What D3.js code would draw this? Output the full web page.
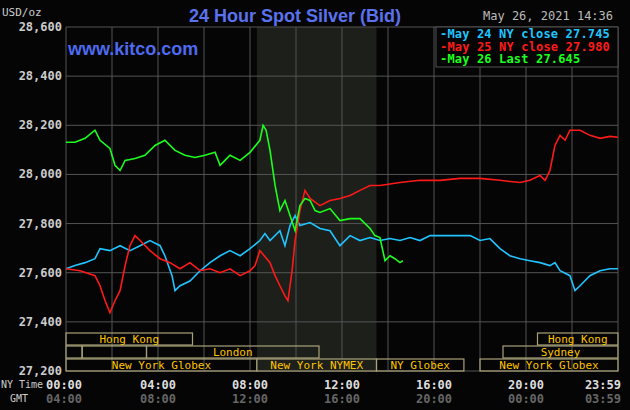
<!DOCTYPE html>
<html><head><meta charset="utf-8">
<script src="https://cdn.jsdelivr.net/npm/d3@7"></script>
<style>body{margin:0;background:#000}svg{display:block}text{font-family:"DejaVu Sans Mono",monospace}</style>
</head><body><svg width="630" height="410"></svg>
<script>
const yTicks=[27.2,27.4,27.6,27.8,28.0,28.2,28.4,28.6];
const nyLabels=["00:00","04:00","08:00","12:00","16:00","20:00","23:59"];
const gmtLabels=["04:00","08:00","12:00","16:00","20:00","00:00","03:59"];
const labelHours=[0,4,8,12,16,20,24];
const cyanT=[0,.39,.83,1.26,1.48,1.91,2.35,2.78,3.22,3.65,4.09,4.30,4.61,4.74,4.96,5.39,5.83,6.26,6.70,7.13,7.57,8.0,8.43,8.65,8.87,9.30,9.52,9.74,9.96,10.17,10.61,11.04,11.48,11.91,12.35,12.78,13.22,13.65,14.09,14.52,14.96,15.39,15.83,16.7,17.57,18.0,18.43,18.87,19.30,19.74,20.17,20.61,21.04,21.26,21.48,21.91,22.13,22.35,22.78,23.22,23.65,24];
const cyanV=[27.616,27.629,27.641,27.657,27.698,27.690,27.710,27.690,27.710,27.731,27.710,27.669,27.588,27.527,27.547,27.566,27.608,27.641,27.669,27.690,27.669,27.698,27.731,27.759,27.731,27.771,27.710,27.792,27.833,27.792,27.804,27.780,27.771,27.710,27.751,27.731,27.743,27.731,27.739,27.731,27.743,27.731,27.751,27.751,27.751,27.731,27.739,27.698,27.669,27.657,27.649,27.641,27.629,27.641,27.608,27.588,27.527,27.547,27.588,27.608,27.616,27.616];
const redT=[0,.61,1.26,1.48,1.70,1.91,2.13,2.35,2.57,2.78,3.0,3.22,3.65,4.09,4.52,4.96,5.39,5.83,6.26,6.70,7.13,7.57,8.0,8.22,8.43,8.87,9.09,9.30,9.52,9.65,9.83,9.96,10.17,10.39,10.61,11.04,11.48,11.91,12.35,12.78,13.22,13.65,14.52,15.39,16.26,17.13,18.0,18.87,19.74,20.17,20.61,20.83,21.04,21.26,21.48,21.70,21.91,22.35,22.78,23.22,23.65,24];
const redV=[27.616,27.608,27.588,27.547,27.486,27.437,27.486,27.527,27.629,27.710,27.751,27.731,27.690,27.657,27.641,27.616,27.641,27.608,27.616,27.600,27.616,27.588,27.608,27.629,27.690,27.641,27.588,27.547,27.506,27.486,27.608,27.731,27.853,27.935,27.902,27.873,27.894,27.902,27.914,27.935,27.955,27.955,27.967,27.976,27.976,27.984,27.984,27.976,27.967,27.976,27.996,27.976,28.016,28.118,28.159,28.139,28.180,28.180,28.159,28.147,28.155,28.151];
const greenT=[0,.39,.83,1.26,1.48,1.91,2.13,2.35,2.57,3.0,3.43,3.87,4.30,4.74,5.17,5.61,6.04,6.48,6.70,6.91,7.13,7.57,8.0,8.43,8.57,8.70,8.87,9.09,9.30,9.52,9.74,9.96,10.17,10.39,10.61,10.83,11.04,11.48,11.91,12.35,12.78,13.22,13.43,13.65,13.87,14.09,14.30,14.52,14.65];
const greenV=[28.131,28.131,28.147,28.180,28.139,28.106,28.037,28.016,28.057,28.065,28.078,28.118,28.139,28.098,28.078,28.069,28.078,28.090,28.037,28.057,28.078,28.057,28.090,28.139,28.200,28.180,28.098,27.955,27.853,27.894,27.833,27.771,27.873,27.902,27.894,27.853,27.845,27.861,27.812,27.820,27.820,27.780,27.751,27.743,27.649,27.669,27.657,27.641,27.649];
const sessions=[
 [0,0,5.5,"Hong Kong"],[0,20.5,24,"Hong Kong"],
 [1,0,0.7,""],[1,0.7,3.5,""],[1,3.5,11,"London"],[1,19,24,"Sydney"],
 [2,0,8.3,"New York Globex"],[2,8.3,13.5,"New York NYMEX"],[2,13.5,17.3,"NY Globex"],[2,18,24,"New York Globex"]];

const svg=d3.select("svg");
svg.append("rect").attr("width",630).attr("height",410).attr("fill","#050505");
const x=d3.scaleLinear().domain([0,24]).range([66,618]);
const y=d3.scaleLinear().domain([27.2,28.6]).range([371,27]);
svg.append("rect").attr("x",x(8.3)).attr("y",27).attr("width",x(13.5)-x(8.3)).attr("height",344).attr("fill","#1c1f1a");
const g=svg.append("g");
d3.range(0,25,2).forEach(h=>g.append("line").attr("x1",x(h)).attr("x2",x(h)).attr("y1",27).attr("y2",371).attr("stroke","#555"));
yTicks.forEach(v=>{g.append("line").attr("x1",66).attr("x2",618).attr("y1",y(v)).attr("y2",y(v)).attr("stroke","#555");
 svg.append("text").attr("x",62).attr("y",y(v)+4).attr("text-anchor","end").attr("fill","#ccc").attr("font-size",12).attr("font-weight","bold").text(d3.format(",.0f")(v*1000).replace(/^(\d\d),/,"$1,"));});
const rowY=[333,346,359];
sessions.forEach(s=>{const r=s[0];
 svg.append("rect").attr("x",x(s[1])).attr("y",rowY[r]).attr("width",x(s[2])-x(s[1])).attr("height",12).attr("fill",r==2&&s[1]==8.3?"#1c1f1a":"none").attr("stroke","#a8a27a").attr("stroke-width",1.2);
 if(s[3])svg.append("text").attr("x",(x(s[1])+x(s[2]))/2).attr("y",rowY[r]+10).attr("text-anchor","middle").attr("fill","#ffc400").attr("font-size",11).text(s[3]);});
const line=d3.line().x(d=>x(d[0])).y(d=>y(d[1]));
[[cyanT,cyanV,"#22c4ff"],[redT,redV,"#ff1a1a"],[greenT,greenV,"#1cff1c"]].forEach(([t,v,c])=>{
 svg.append("path").datum(t.map((h,i)=>[h,v[i]])).attr("d",line).attr("fill","none").attr("stroke",c).attr("stroke-width",1.6);});
svg.append("text").attr("x",2).attr("y",16).attr("fill","#ccc").attr("font-size",11).text("USD/oz");
svg.append("text").attr("x",295).attr("y",22).attr("text-anchor","middle").attr("fill","#5a72ee").attr("font-size",18).attr("font-weight","bold").attr("style","font-family:'Liberation Sans',Arial").text("24 Hour Spot Silver (Bid)");
svg.append("text").attr("x",68).attr("y",55).attr("fill","#4d6af0").attr("font-size",18).attr("font-weight","bold").attr("style","font-family:'Liberation Sans',Arial").text("www.kitco.com");
svg.append("text").attr("x",483).attr("y",20).attr("fill","#bbb").attr("font-size",12).text("May 26, 2021 14:36");
svg.append("rect").attr("x",436).attr("y",27).attr("width",182).attr("height",40).attr("fill","#050505").attr("stroke","#555");
[["May 24 NY close 27.745","#22c4ff"],["May 25 NY close 27.980","#ff1a1a"],["May 26 Last 27.645","#1cff1c"]].forEach((d,i)=>{
 svg.append("text").attr("x",440).attr("y",38+i*12.5).attr("fill",d[1]).attr("font-size",12).attr("font-weight","bold").attr("textLength",d[0].length*7.4+7).text("-"+d[0]);});
svg.append("text").attr("x",1).attr("y",388).attr("fill","#ccc").attr("font-size",10).text("NY Time");
svg.append("text").attr("x",10).attr("y",402).attr("fill","#ccc").attr("font-size",10).text("GMT");
labelHours.forEach((h,i)=>{
 const anchor=i==6?"end":"middle";const xx=i==0?x(0)-2:(i==6?621:x(h));
 svg.append("text").attr("x",xx).attr("y",389).attr("text-anchor",anchor).attr("fill","#ddd").attr("font-size",12).attr("font-weight","bold").text(nyLabels[i]);
 svg.append("text").attr("x",xx).attr("y",403).attr("text-anchor",anchor).attr("fill","#666").attr("font-size",12).attr("font-weight","bold").text(gmtLabels[i]);});
</script></body></html>
